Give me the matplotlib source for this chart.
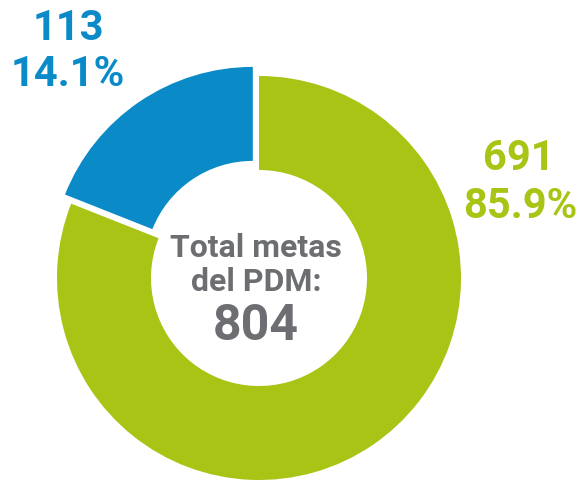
import matplotlib
matplotlib.use("Agg")
import matplotlib.pyplot as plt

# Values printed on the chart
counts = [113, 691]
percents = ["14.1%", "85.9%"]
total = 804
# Slice shares as drawn in the picture (blue arc spans ~68 degrees)
drawn_share = [19.0, 81.0]
colors = ["#0a8bc8", "#a9c414"]
gray = "#6d6e71"

plt.rcParams["font.family"] = ["Roboto", "DejaVu Sans"]

fig = plt.figure(figsize=(5.82, 4.84), dpi=100)
ax = fig.add_axes([0, 0, 1, 1])
ax.set_aspect("equal")
ax.axis("off")

cx, cy, r = 259, 484 - 278, 202
# explode offset is in data units here (pixels)
ax.pie(drawn_share, colors=colors, startangle=90, counterclock=True,
       center=(cx, cy), radius=r, explode=[11, 0],
       wedgeprops=dict(width=94, edgecolor="none"))
ax.set_xlim(0, 582)
ax.set_ylim(0, 484)

# Outside labels
ax.text(68, 484 - 29, str(counts[0]), color=colors[0], fontsize=30,
        fontweight="bold", ha="center", va="center")
ax.text(68, 484 - 75, percents[0], color=colors[0], fontsize=30,
        fontweight="bold", ha="center", va="center")
ax.text(519, 484 - 159, str(counts[1]), color=colors[1], fontsize=30,
        fontweight="bold", ha="center", va="center")
ax.text(520, 484 - 206, percents[1], color=colors[1], fontsize=30,
        fontweight="bold", ha="center", va="center")

# Center text
ax.text(256, 484 - 248, "Total metas", color=gray, fontsize=23,
        fontweight="bold", ha="center", va="center")
ax.text(256, 484 - 282, "del PDM:", color=gray, fontsize=23,
        fontweight="bold", ha="center", va="center")
ax.text(256, 484 - 326, str(total), color=gray, fontsize=36,
        fontweight="bold", ha="center", va="center")

fig.savefig("out.png", dpi=100, facecolor="white")
